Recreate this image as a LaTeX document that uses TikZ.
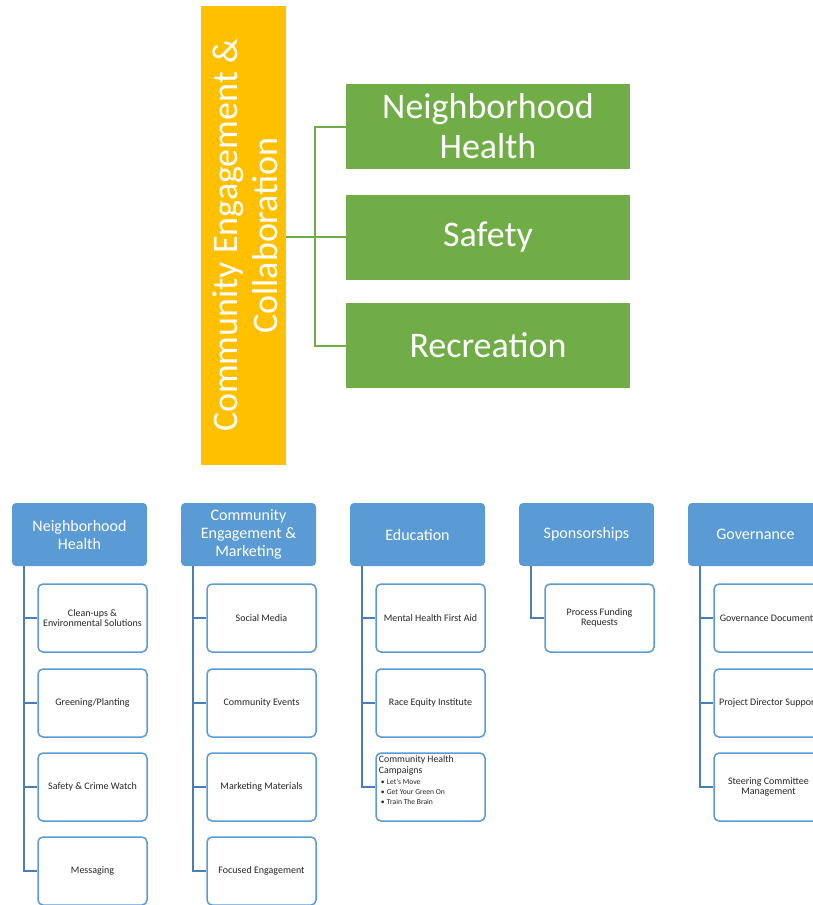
\documentclass[tikz,border=0pt]{standalone}
\usepackage{fontspec}
\setmainfont{Carlito}
\begin{document}
\definecolor{ceorange}{HTML}{FFC000}
\definecolor{cegreen}{HTML}{70AD47}
\definecolor{ceblue}{HTML}{5B9BD5}
\definecolor{celine}{HTML}{4A7EBB}
\definecolor{cetext}{HTML}{262626}
\begin{tikzpicture}[x=1pt,y=-1pt,
  pillar/.style={fill=ceorange,minimum width=85pt,minimum height=459pt,inner sep=0pt},
  area/.style={fill=cegreen,minimum width=284pt,minimum height=85pt,inner sep=0pt,
    text=white,align=center,font=\fontsize{36}{40}\selectfont},
  hdr/.style={fill=ceblue,rounded corners=4pt,minimum width=135pt,minimum height=63pt,
    inner sep=0pt,text=white,align=center,font=\fontsize{16}{18}\selectfont},
  leaf/.style={draw=ceblue,fill=white,line width=1.5pt,rounded corners=5pt,
    minimum width=109pt,minimum height=68pt,inner sep=0pt,text=cetext,align=center,
    font=\fontsize{10}{10.5}\selectfont},
  gline/.style={draw=cegreen,line width=2pt},
  bline/.style={draw=celine,line width=2pt},
]
\useasboundingbox (0,0) rectangle (813,905);
\clip (0,0) rectangle (813,905);

% top: pillar and its three focus areas
\node[pillar] (ceo) at (243.5,235.5) {};
\node[rotate=90,text=white,align=center,font=\fontsize{36}{40}\selectfont]
  (ceotext) at (245,235.5) {Community Engagement \&\\Collaboration};
\node[area] (nh) at (488,126.5) {Neighborhood\\Health};
\node[area] (safety) at (488,237) {Safety};
\node[area] (rec) at (488,345.5) {Recreation};
\coordinate (bus) at ([xshift=29pt]ceo.east |- safety.west);
\draw[gline] (ceo.east |- safety.west) -- (safety.west);
\draw[gline] (nh.west) -| (bus) |- (rec.west);

% bottom: work groups
\node[hdr] (h1) at (79.5,534.5) {Neighborhood\\Health};
\node[hdr] (h2) at (248.5,534.5) {Community\\Engagement \&\\Marketing};
\node[hdr] (h3) at (417.5,534.5) {Education};
\node[hdr] (h4) at (586.5,534.5) {Sponsorships};
\node[hdr] (h5) at (755.5,534.5) {Governance};

% column 1
\node[leaf] (l11) at (92.5,618) {Clean-ups \&\\Environmental Solutions};
\node[leaf] (l12) at (92.5,703) {Greening/Planting};
\node[leaf] (l13) at (92.5,787) {Safety \& Crime Watch};
\node[leaf] (l14) at (92.5,871) {Messaging};
% column 2
\node[leaf] (l21) at (261.5,618) {Social Media};
\node[leaf] (l22) at (261.5,703) {Community Events};
\node[leaf] (l23) at (261.5,787) {Marketing Materials};
\node[leaf] (l24) at (261.5,871) {Focused Engagement};
% column 3
\node[leaf] (l31) at (430.5,618) {Mental Health First Aid};
\node[leaf] (l32) at (430.5,703) {Race Equity Institute};
\node[leaf] (l33) at (430.5,787) {};
\node[anchor=north west,inner sep=0pt,align=left,text=cetext,font=\fontsize{9.8}{10.8}\selectfont]
  (l33text) at ([xshift=3.5pt,yshift=-3pt]l33.north west)
  {Community Health\\Campaigns\\[0.5pt]
   {\fontsize{7.6}{10}\selectfont\makebox[8pt][l]{\hspace{2pt}•}Let’s Move}\\[-0.8pt]
   {\fontsize{7.6}{10}\selectfont\makebox[8pt][l]{\hspace{2pt}•}Get Your Green On}\\[-0.8pt]
   {\fontsize{7.6}{10}\selectfont\makebox[8pt][l]{\hspace{2pt}•}Train The Brain}};
% column 4
\node[leaf] (l41) at (599.5,618) {Process Funding\\Requests};
% column 5
\node[leaf] (l51) at (768.5,618) {Governance Documents};
\node[leaf] (l52) at (768.5,703) {Project Director Support};
\node[leaf] (l53) at (768.5,787) {Steering Committee\\Management};

% connectors from each header down its column
\foreach \h/\leaves in {h1/{l11,l12,l13,l14},h2/{l21,l22,l23,l24},h3/{l31,l32,l33},h4/{l41},h5/{l51,l52,l53}}{
  \foreach \l in \leaves {
    \draw[bline] ([xshift=12pt]\h.south west) |- (\l.west);
  }
}
\end{tikzpicture}
\end{document}
